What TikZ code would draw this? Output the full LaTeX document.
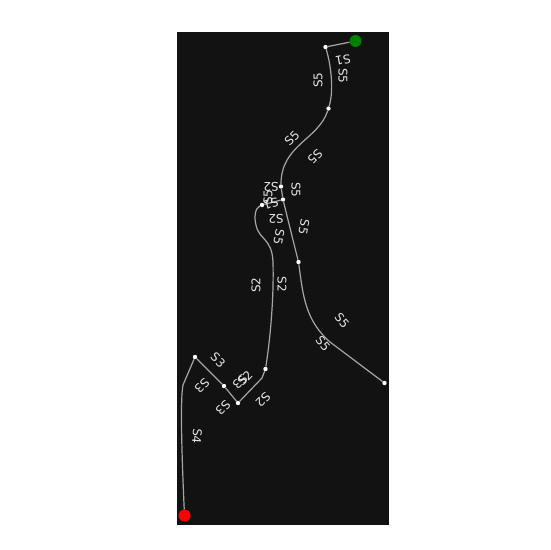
\documentclass[tikz,border=0pt]{standalone}
\usepackage{fontspec}
\setmainfont{DejaVu Sans}
\tikzset{
  waynode/.style={circle,fill=white,inner sep=0pt,minimum size=4.4pt},
  edgeline/.style={draw=white!65!black,line width=1.2pt},
  lab/.style={text=white!90!black,font=\fontsize{12}{13}\selectfont,inner sep=0pt}
}
\begin{document}
\begin{tikzpicture}[x=1pt,y=-1pt]
\useasboundingbox (0,0) rectangle (550,550);
\fill[white] (0,0) rectangle (550,550);
\fill[black!93] (177,32) rectangle (389,525);
\node[circle,fill=green!50!black,inner sep=0pt,minimum size=12pt] (start) at (355.5,41) {};
\node[circle,fill=red,inner sep=0pt,minimum size=12pt] (goal) at (184.5,515.5) {};
\node[waynode] (a) at (325.5,47) {};
\node[waynode] (b) at (328.5,108.5) {};
\node[waynode] (c) at (281,186.5) {};
\node[waynode] (d) at (283,199.5) {};
\node[waynode] (e) at (262,205) {};
\node[waynode] (f) at (298.5,262) {};
\node[waynode] (h) at (384.5,383) {};
\node[waynode] (i) at (265.5,369) {};
\node[waynode] (j) at (238,403) {};
\node[waynode] (k) at (224,386) {};
\node[waynode] (l) at (195,357) {};
\draw[edgeline] (start) -- (a);
\draw[edgeline] (a) .. controls (331,65) and (334,90) .. (b);
\draw[edgeline] (b) .. controls (318,140) and (281,145) .. (c);
\draw[edgeline] (c) -- (d);
\draw[edgeline] (d) -- (e);
\draw[edgeline] (d) .. controls (288,220) and (293,240) .. (f);
\draw[edgeline] (f) .. controls (303,295) and (305,320) .. (330,342) -- (h);
\draw[edgeline] (e) .. controls (255,208) and (254,218) .. (256,225) .. controls (259,240) and (272,238) .. (273,262) .. controls (274,300) and (270,340) .. (i);
\draw[edgeline] (i) -- (262,378) -- (j);
\draw[edgeline] (j) -- (k);
\draw[edgeline] (k) -- (l);
\draw[edgeline] (l) -- (183,385) .. controls (180,400) and (182,460) .. (goal);
\node[lab,rotate=190] at (343,60) {S1};
\node[lab,rotate=-90] at (343,76) {S5};
\node[lab,rotate=90] at (318,80) {S5};
\node[lab,rotate=45] at (292,138) {S5};
\node[lab,rotate=-135] at (315,157) {S5};
\node[lab,rotate=-90] at (296,190) {S5};
\node[lab,rotate=-100] at (304,227) {S5};
\node[lab,rotate=180] at (271,187) {S2};
\node[lab,rotate=90] at (268,197) {S5};
\node[lab,rotate=195] at (271,204) {S1};
\node[lab,rotate=180] at (276,219) {S2};
\node[lab,rotate=-100] at (279,237) {S5};
\node[lab,rotate=90] at (256,285) {S2};
\node[lab,rotate=-90] at (282,284) {S2};
\node[lab,rotate=-50] at (342,321) {S5};
\node[lab,rotate=-50] at (323,344) {S5};
\node[lab,rotate=-135] at (263,400) {S2};
\node[lab,rotate=45] at (245,378) {S2};
\node[lab,rotate=-135] at (240,382) {S3};
\node[lab,rotate=-45] at (218,360) {S3};
\node[lab,rotate=-135] at (202,386) {S3};
\node[lab,rotate=-135] at (223,408) {S3};
\node[lab,rotate=-95] at (197,436) {S4};
\end{tikzpicture}
\end{document}
